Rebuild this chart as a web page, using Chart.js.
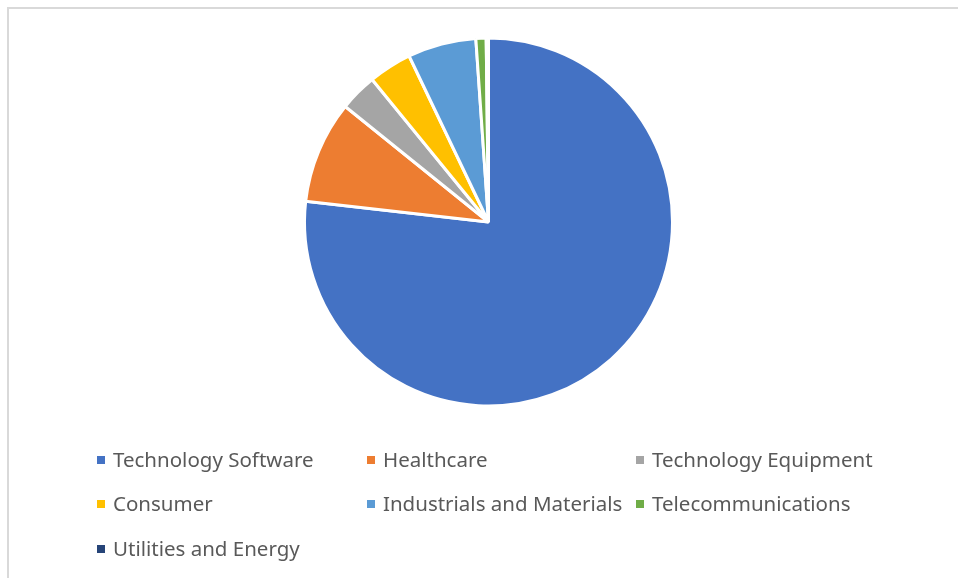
<!DOCTYPE html>
<html>
<head>
<meta charset="utf-8">
<script src="https://cdn.jsdelivr.net/npm/chart.js@4"></script>
<style>
  html, body { margin: 0; padding: 0; background: #fff; }
  #wrap { width: 958px; height: 578px; position: relative; }
</style>
</head>
<body>
<div id="wrap"><canvas id="sectorChart"></canvas></div>
<script>
// sector weights (%)
const sectors = ['Technology Software', 'Healthcare', 'Technology Equipment', 'Consumer',
                 'Industrials and Materials', 'Telecommunications', 'Utilities and Energy'];
const weights = [76.8, 9.0, 3.3, 3.8, 6.0, 0.9, 0.2];
const colors = ['#4472C4', '#ED7D31', '#A5A5A5', '#FFC000', '#5B9BD5', '#70AD47', '#264478'];

// frame + grid legend like the Excel original
const officeLegend = {
    id: 'officeLegend',
    afterDraw(chart) {
        const ctx = chart.ctx;
        ctx.save();
        ctx.strokeStyle = '#d9d9d9';
        ctx.lineWidth = 2;
        ctx.beginPath();
        ctx.moveTo(8, 578);
        ctx.lineTo(8, 8);
        ctx.lineTo(958, 8);
        ctx.stroke();

        const colX = [97, 367, 636];
        const rowY = [460, 504, 549];
        ctx.font = '20.5px "Noto Sans"';
        ctx.textBaseline = 'middle';
        chart.data.labels.forEach(function(label, i) {
            const x = colX[i % 3];
            const y = rowY[Math.floor(i / 3)];
            ctx.fillStyle = chart.data.datasets[0].backgroundColor[i];
            ctx.fillRect(x, y - 4, 8, 8);
            ctx.fillStyle = '#595959';
            ctx.fillText(label, x + 16, y + 1);
        });
        ctx.restore();
    }
};

const ctx = document.getElementById('sectorChart').getContext('2d');
new Chart(ctx, {
    type: 'pie',
    data: {
        labels: sectors,
        datasets: [{
            data: weights,
            backgroundColor: colors,
            borderColor: '#ffffff',
            borderWidth: 3
        }]
    },
    options: {
        responsive: true,
        maintainAspectRatio: false,
        animation: false,
        layout: { padding: { top: 36.5, bottom: 170.5, left: 19, right: 0 } },
        plugins: {
            legend: { display: false },
            tooltip: { enabled: false }
        }
    },
    plugins: [officeLegend]
});
</script>
</body>
</html>
